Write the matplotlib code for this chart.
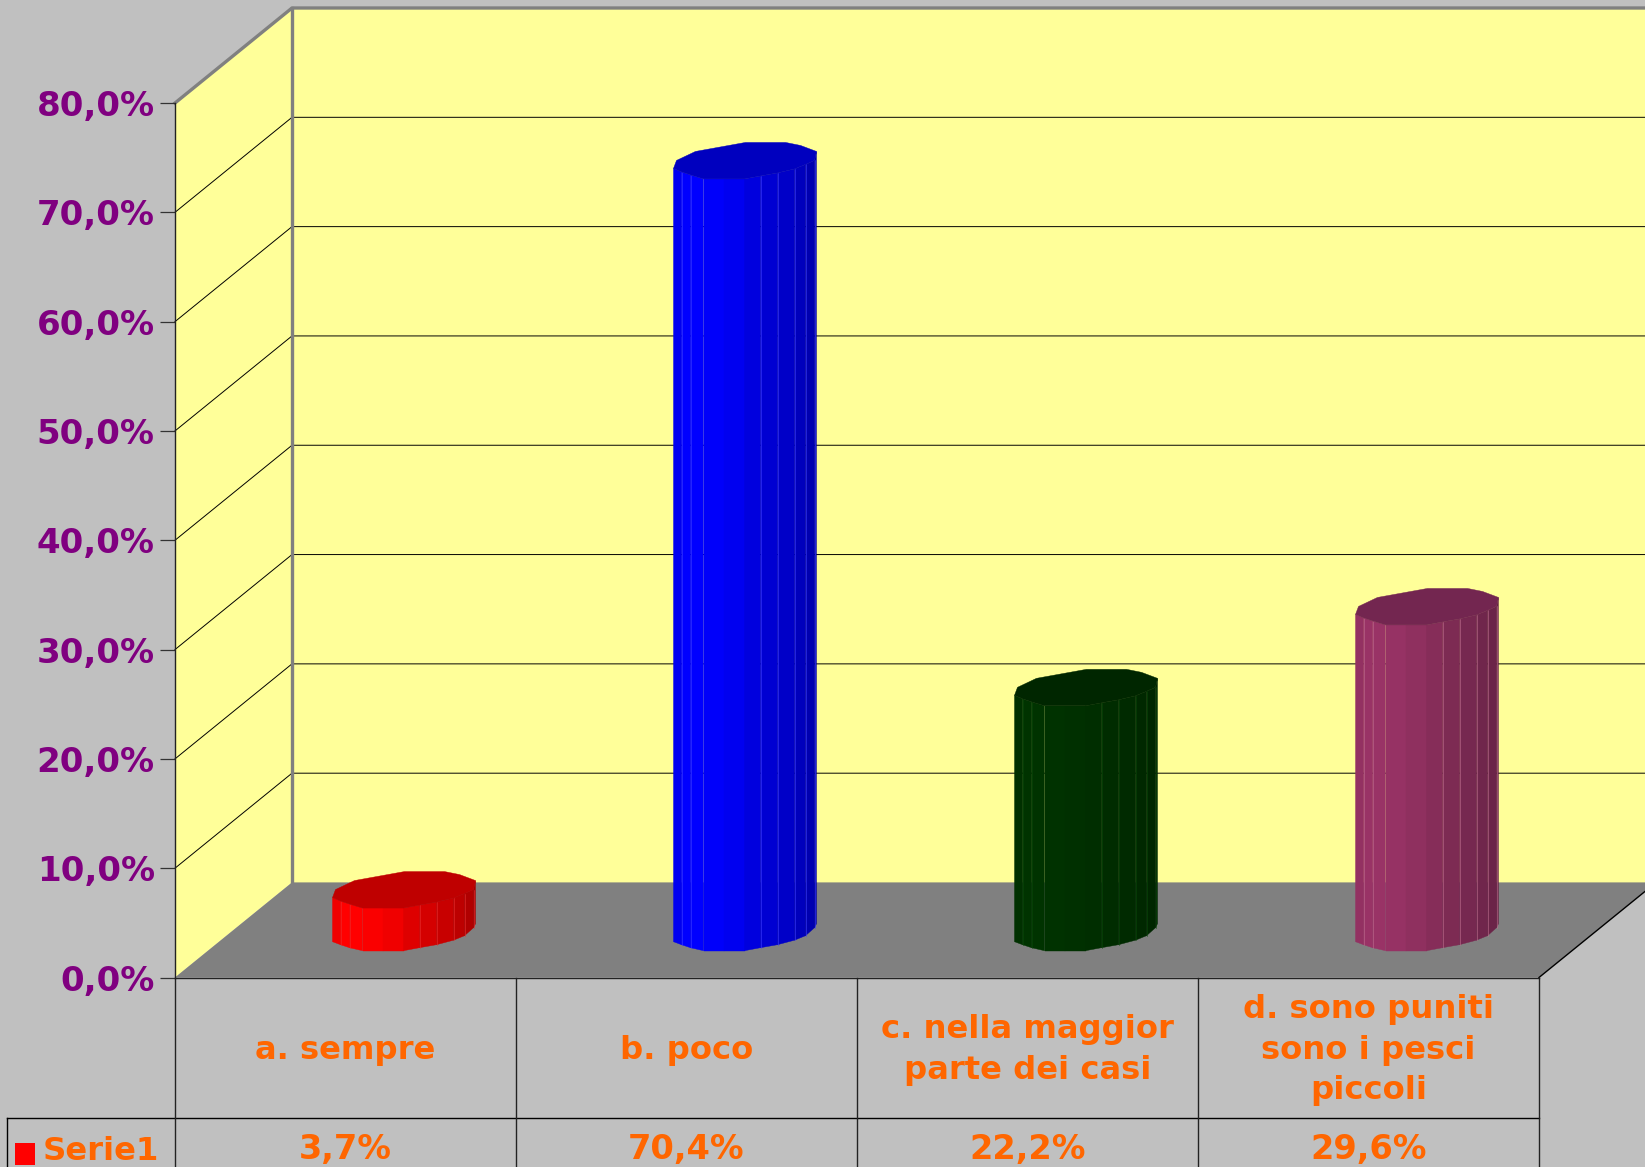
import numpy as np
import matplotlib
matplotlib.use("Agg")
import matplotlib.pyplot as plt
from matplotlib.patches import Polygon, Rectangle

categories = ["a. sempre", "b. poco", "c. nella maggior\nparte dei casi",
              "d. sono puniti\nsono i pesci\npiccoli"]
values = [3.7, 70.4, 22.2, 29.6]
value_labels = ["3,7%", "70,4%", "22,2%", "29,6%"]
series_name = "Serie1"
ticks = [0, 10, 20, 30, 40, 50, 60, 70, 80]

# colours per bar: side shades left to right, then top
bar_side = [["#F00000", "#FF0000", "#FF0000", "#FA0000", "#F00000", "#DE0000", "#D40000", "#C80000", "#BC0000", "#B00000", "#A80000"],
            ["#0000F0", "#0000FF", "#0000FF", "#0000FA", "#0000F0", "#0000DE", "#0000D2", "#0000C8", "#0000BC", "#0000B0", "#0000A8"],
            ["#003000", "#003300", "#003300", "#003200", "#003000", "#002E00", "#002C00", "#002A00", "#002800", "#002600", "#002400"],
            ["#933162", "#993366", "#993366", "#963264", "#8F305F", "#862D59", "#7D2B53", "#762850", "#70264C", "#6B2448", "#672345"]]
bar_top = ["#BF0000", "#0000BF", "#002600", "#732650"]
bar_line = ["#E83030", "#4040FF", "#0A4A0A", "#C07090"]

W, H = 1645, 1167
X0, X1 = 175, 1539
Y0, Y80 = 977.5, 103
ux = (X1 - X0) / 4
uy = (Y0 - Y80) / 80

fig = plt.figure(figsize=(W / 100, H / 100), dpi=100, facecolor="#C0C0C0")
ax = fig.add_axes([X0 / W, 1 - Y0 / H, (X1 - X0) / W, (Y0 - Y80) / H])
ax.set_xlim(-0.5, 3.5)
ax.set_ylim(0, 80)
ax.patch.set_visible(False)

# depth of the 3d box, in data units
dx = 117 / ux
dy = 95 / uy
left = -0.5
right = 3.5
vmax = ticks[-1]

# walls and floor
ax.add_patch(Polygon([(left + dx, dy), (right + dx, dy), (right + dx, vmax + dy), (left + dx, vmax + dy)],
                     fc="#FFFF99", ec="none", zorder=1, clip_on=False))
ax.add_patch(Polygon([(left, 0), (left + dx, dy), (left + dx, vmax + dy), (left, vmax)],
                     fc="#FFFF99", ec="none", zorder=1, clip_on=False))
ax.add_patch(Polygon([(left, 0), (right, 0), (right + dx, dy), (left + dx, dy)],
                     fc="#808080", ec="none", zorder=1.1, clip_on=False))
for t in ticks[1:-1]:
    ax.plot([left, left + dx, right + dx], [t, t + dy, t + dy], color="#000000", lw=0.7, zorder=1.2, clip_on=False)
ax.plot([left, left + dx, right + dx], [vmax, vmax + dy, vmax + dy], color="#808080", lw=2.4, zorder=1.3, clip_on=False)
ax.plot([left + dx, left + dx], [dy, vmax + dy], color="#808080", lw=2.4, zorder=1.3, clip_on=False)
ax.plot([left + dx, right + dx], [dy, dy], color="#808080", lw=1.0, zorder=1.3, clip_on=False)
ax.plot([right, right + dx], [0, dy], color="#000000", lw=1.0, zorder=1.3, clip_on=False)

# faceted cylinder outline, pixel offsets from the left vertex
prof_x = np.array([0, 8, 17, 30, 50, 71, 87, 104, 121, 132, 141, 143]) / ux
top_prof = np.array([0, 3.5, 6.5, 10.5, 10.5, 10.5, 7.5, 4.5, 0.5, -4, -8, -17]) / uy
low_prof = np.array([0, 3, 6, 9, 9, 9, 6, 3, -1.5, -6, -14, -18]) / uy
back_x = np.array([143, 127, 112, 72, 22, 3, 0]) / ux
back_y = np.array([-17, -23, -26, -26, -17, -8, 0]) / uy
bar_left = -13 / ux
base_y = 35.8 / uy
top_y = 39.5 / uy

for i, v in enumerate(values):
    x0 = i + bar_left
    for k in range(len(prof_x) - 1):
        xs = [x0 + prof_x[k], x0 + prof_x[k + 1], x0 + prof_x[k + 1], x0 + prof_x[k]]
        ys = [base_y - low_prof[k], base_y - low_prof[k + 1], v + top_y - top_prof[k + 1], v + top_y - top_prof[k]]
        ax.add_patch(Polygon(list(zip(xs, ys)), fc=bar_side[i][k], ec=bar_side[i][k], lw=0.3, zorder=3, clip_on=False))
        if k in (0, 1, 5, 6, 7, 8, 9):
            ax.plot([x0 + prof_x[k + 1]] * 2, [base_y - low_prof[k + 1], v + top_y - top_prof[k + 1]],
                    color=bar_line[i], lw=0.4, zorder=3.1, clip_on=False)
    tx = np.concatenate([x0 + prof_x, x0 + back_x])
    ty = np.concatenate([v + top_y - top_prof, v + top_y - back_y])
    ax.add_patch(Polygon(list(zip(tx, ty)), fc=bar_top[i], ec=bar_top[i], lw=0.3, zorder=3.2, clip_on=False))

# axis
for s in ["top", "right"]:
    ax.spines[s].set_visible(False)
for s in ["left", "bottom"]:
    ax.spines[s].set_color("#222222")
    ax.spines[s].set_linewidth(1.0)
ax.set_xticks([])
ax.set_yticks(ticks)
ax.set_yticklabels([f"{t},0%" for t in ticks], fontsize=24.5, fontweight="bold", color="#800080")
ax.tick_params(axis="y", length=10.5, width=0.9, color="#333333", pad=4)

# data table under the chart
row1 = -(1118 - Y0) / uy
row2 = -(H + 5 - Y0) / uy
box_left = left - (X0 - 6.5) / ux
ax.plot([box_left, right], [row1, row1], color="#000000", lw=1.0, clip_on=False, zorder=4)
ax.plot([box_left, box_left], [row1, row2], color="#000000", lw=1.0, clip_on=False, zorder=4)
for c in np.arange(left, right + 1):
    ax.plot([c, c], [0, row2], color="#222222", lw=1.0, clip_on=False, zorder=4)

for i, name in enumerate(categories):
    ax.text(i, -(1050 - Y0) / uy, name, ha="center", va="center", fontsize=23.2, fontweight="bold",
            color="#FF6600", linespacing=1.4, clip_on=False)
    ax.text(i, -(1150 - Y0) / uy, value_labels[i], ha="center", va="center", fontsize=24.2, fontweight="bold",
            color="#FF6600", clip_on=False)

ax.text(left - (X0 - 43) / ux, -(1152 - Y0) / uy, series_name, ha="left", va="center", fontsize=23.2,
        fontweight="bold", color="#FF6600", clip_on=False)
ax.add_patch(Rectangle((left - (X0 - 15) / ux, -(1165 - Y0) / uy), 20 / ux, 22 / uy, fc="#FF0000", ec="none",
                       clip_on=False, zorder=4))

fig.savefig("out.png", dpi=100, facecolor=fig.get_facecolor())
